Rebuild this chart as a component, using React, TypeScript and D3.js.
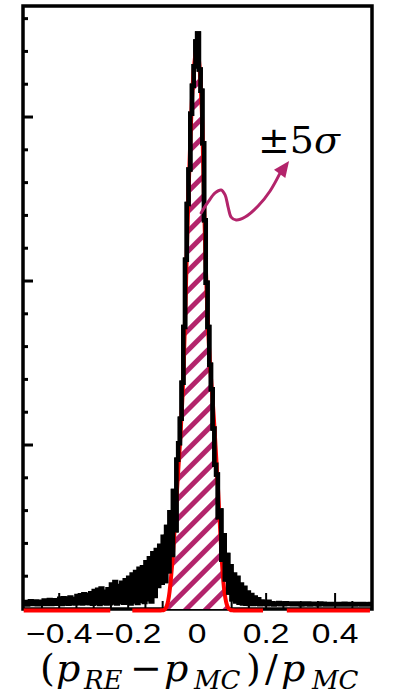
import React from 'react';
import * as d3 from 'd3';

const W = 409;
const H = 697;

// Histogram of relative deviation: 202 bins of width 0.005 starting at -0.505
const binStart = -0.505;
const binWidth = 0.005;
const counts = [
  30, 42, 28, 40, 48, 30, 36, 45, 29, 41,
  44, 30, 52, 31, 47, 55, 30, 50, 54, 32,
  33, 62, 31, 66, 34, 64, 32, 70, 35, 61,
  34, 80, 36, 84, 33, 90, 38, 86, 35, 96,
  32, 110, 36, 118, 31, 125, 38, 105, 34, 120,
  35, 150, 40, 165, 33, 140, 42, 160, 38, 175,
  40, 190, 34, 210, 45, 225, 36, 245, 50, 255,
  42, 285, 60, 310, 45, 340, 80, 360, 140, 385,
  160, 440, 170, 500, 230, 590, 330, 720, 480, 910,
  1010, 1160, 1380, 1720, 2130, 2470, 2680, 3020, 3190, 3310,
  3460, 3510, 3290, 3160, 2840, 2370, 1990, 1720, 1490, 1340,
  1100, 880, 820, 560, 600, 300, 450, 180, 330, 100,
  260, 60, 210, 45, 190, 38, 150, 34, 130, 32,
  100, 31, 85, 30, 70, 32, 60, 29, 45, 31,
  40, 29, 44, 31, 35, 28, 34, 30, 37, 29,
  34, 29, 35, 30, 31, 34, 29, 31, 33, 29,
  32, 28, 34, 30, 29, 33, 28, 30, 32, 29,
  31, 28, 33, 30, 32, 28, 30, 31, 28, 30,
  29, 31, 28, 30, 31, 28, 32, 29, 28, 30,
  29, 31, 28, 30, 29, 31, 28, 30, 28, 29,
  28, 30,
];

// Fitted curve (NaN marks a break in the drawn line)
const fitX = [
  -0.503, -0.252, -0.22, -0.188, -0.13, -0.11, -0.102, -0.096, -0.092, -0.088,
  -0.084, -0.080, -0.076, -0.072, -0.068, -0.064, -0.060, -0.055, -0.050, -0.045,
  -0.040, -0.035, -0.030, -0.025, -0.020, -0.015, -0.010, -0.005, 0.000, 0.005,
  0.010, 0.015, 0.020, 0.025, 0.030, 0.035, 0.040, 0.045, 0.050, 0.055,
  0.060, 0.064, 0.068, 0.072, 0.076, 0.080, 0.084, 0.088, 0.092, 0.096,
  0.102, 0.110, 0.191, 0.225, 0.260, 0.501,
];
const fitY = [
  0, 0, NaN, 0, 0, 0, 1, 4, 12, 28,
  60, 115, 195, 295, 410, 540, 680, 850, 1010, 1200,
  1430, 1780, 2180, 2550, 2860, 3120, 3290, 3390, 3430, 3360,
  3210, 2960, 2480, 2100, 1800, 1580, 1420, 1280, 1120, 940,
  760, 600, 440, 290, 175, 100, 52, 25, 10, 4,
  1, 0, 0, NaN, 0, 0,
];

// ±5σ window shaded under the fit
const sigmaWindow = [-0.098, 0.098];

const xMajorTicks = [-0.4, -0.2, 0, 0.2, 0.4];
const xTickLabels = ['\u22120.4', '\u22120.2', '0', '0.2', '0.4'];
const xMinorTicks = [-0.45, -0.35, -0.3, -0.25, -0.15, -0.1, -0.05, 0.05, 0.1, 0.15, 0.25, 0.3, 0.35, 0.45];
const yMajorTicks = [1000, 2000, 3000];
const yMinorTicks = [200, 400, 600, 800, 1200, 1400, 1600, 1800, 2200, 2400, 2600, 2800, 3200, 3400, 3600];

// Annotation arrow path (data units) and its tip
const arrowX = [0.0115, 0.0318, 0.0521, 0.0695, 0.081, 0.0898, 0.0985, 0.113, 0.139, 0.1767, 0.2115, 0.2392];
const arrowY = [2415, 2482, 2537, 2555, 2525, 2451, 2390, 2372, 2390, 2457, 2549, 2653];
const arrowTip = [0.2666, 2732];

const ACCENT = '#b3246b';

export default function App() {
  const x = d3.scaleLinear().domain([-0.505, 0.507]).range([23, 372]);
  const y = d3.scaleLinear().domain([0, 3677]).range([609, 6]);

  const histPts: [number, number][] = counts.map((c, i) => [binStart + i * binWidth, c]);
  histPts.push([binStart + counts.length * binWidth, counts[counts.length - 1]]);
  const histPath = d3
    .line<[number, number]>()
    .x((d) => x(d[0]))
    .y((d) => y(d[1]))
    .curve(d3.curveStepAfter)(histPts) as string;

  const fitPts: [number, number][] = fitX.map((v, i) => [v, fitY[i]]);
  const fitPath = d3
    .line<[number, number]>()
    .defined((d) => !isNaN(d[1]))
    .x((d) => x(d[0]))
    .y((d) => y(d[1]))
    .curve(d3.curveMonotoneX)(fitPts) as string;

  const corePts = fitPts.filter((d) => !isNaN(d[1]) && Math.abs(d[0]) <= 0.12);
  const hatchPath = d3
    .area<[number, number]>()
    .x((d) => x(d[0]))
    .y0(y(0))
    .y1((d) => y(d[1]))
    .curve(d3.curveMonotoneX)(corePts) as string;

  const arrowPts: [number, number][] = arrowX.map((v, i) => [v, arrowY[i]]);
  const arrowPath = d3
    .line<[number, number]>()
    .x((d) => x(d[0]))
    .y((d) => y(d[1]))
    .curve(d3.curveCatmullRom)(arrowPts) as string;

  const last = arrowPts[arrowPts.length - 1];
  const bx = x(last[0]);
  const by = y(last[1]);
  const tx = x(arrowTip[0]);
  const ty = y(arrowTip[1]);
  const len = Math.hypot(tx - bx, ty - by);
  const ux = (tx - bx) / len;
  const uy = (ty - by) / len;
  const hw = 7;
  const head = `M${tx},${ty}L${bx - uy * hw},${by + ux * hw}L${bx + uy * hw},${by - ux * hw}Z`;

  const y0 = y(0);

  return (
    <svg
      width={W}
      height={H}
      viewBox={`0 0 ${W} ${H}`}
      style={{ position: 'absolute', left: 0, top: 0, background: '#fff' }}
    >
      <defs>
        <pattern
          id="hatch"
          patternUnits="userSpaceOnUse"
          width={14}
          height={14}
          patternTransform="rotate(-45)"
        >
          <rect x={0} y={0} width={14} height={14} fill="#fff" />
          <rect x={0} y={0} width={14} height={5} fill={ACCENT} />
        </pattern>
        <clipPath id="sigma-clip">
          <rect
            x={x(sigmaWindow[0])}
            y={0}
            width={x(sigmaWindow[1]) - x(sigmaWindow[0])}
            height={y0}
          />
        </clipPath>
      </defs>

      {/* frame */}
      <rect x={23} y={6} width={349} height={603} fill="none" stroke="#000" strokeWidth={3.5} />

      {/* y ticks */}
      {yMajorTicks.map((t) => (
        <line key={`ym${t}`} x1={x(-0.505)} x2={x(-0.505) + 10} y1={y(t)} y2={y(t)} stroke="#000" strokeWidth={3} />
      ))}
      {yMinorTicks.map((t) => (
        <line key={`yn${t}`} x1={x(-0.505)} x2={x(-0.505) + 5} y1={y(t)} y2={y(t)} stroke="#000" strokeWidth={3} />
      ))}

      {/* x ticks */}
      {xMajorTicks.map((t) => (
        <line key={`xm${t}`} x1={x(t)} x2={x(t)} y1={y0} y2={y0 - 16} stroke="#000" strokeWidth={2} />
      ))}
      {xMinorTicks.map((t) => (
        <line key={`xn${t}`} x1={x(t)} x2={x(t)} y1={y0} y2={y0 - 8} stroke="#000" strokeWidth={2} />
      ))}

      {/* shaded ±5σ region */}
      <path d={hatchPath} fill="url(#hatch)" clipPath="url(#sigma-clip)" />

      {/* histogram */}
      <path d={histPath} fill="none" stroke="#000" strokeWidth={4.5} />

      {/* fit, baseline part stays visible under the histogram tails */}
      <path d={fitPath} fill="none" stroke="#ff0000" strokeWidth={4} strokeLinejoin="round" transform="translate(0,1.5)" />
      <path d={histPath} fill="none" stroke="#000" strokeWidth={4.5} clipPath="url(#sigma-clip)" />

      {/* annotation */}
      <path d={arrowPath} fill="none" stroke={ACCENT} strokeWidth={3} strokeLinecap="round" />
      <path d={head} fill={ACCENT} />
      <text x={258} y={153} fontFamily="DejaVu Serif" fontSize={38} fill="#000">
        ±5<tspan fontStyle="italic">σ</tspan>
      </text>

      {/* x tick labels */}
      {xMajorTicks.map((t, i) => (
        <text
          key={`xl${t}`}
          transform={`translate(${x(t)},643) scale(1.2,1)`}
          textAnchor="middle"
          fontFamily="Liberation Sans, Arial, sans-serif"
          fontSize={28}
          fill="#000"
        >
          {xTickLabels[i]}
        </text>
      ))}

      {/* x axis title */}
      <text fontFamily="DejaVu Serif" fill="#000">
        <tspan x={40} y={681} fontSize={38}>(</tspan>
        <tspan x={56} y={681} fontSize={38} fontStyle="italic">p</tspan>
        <tspan x={84} y={689} fontSize={26} fontStyle="italic">RE</tspan>
        <tspan x={130} y={681} fontSize={38}>−</tspan>
        <tspan x={164} y={681} fontSize={38} fontStyle="italic">p</tspan>
        <tspan x={194} y={689} fontSize={26} fontStyle="italic">MC</tspan>
        <tspan x={246} y={681} fontSize={38}>)</tspan>
        <tspan x={265} y={681} fontSize={38}>/</tspan>
        <tspan x={281} y={681} fontSize={38} fontStyle="italic">p</tspan>
        <tspan x={312} y={689} fontSize={26} fontStyle="italic">MC</tspan>
      </text>
    </svg>
  );
}
